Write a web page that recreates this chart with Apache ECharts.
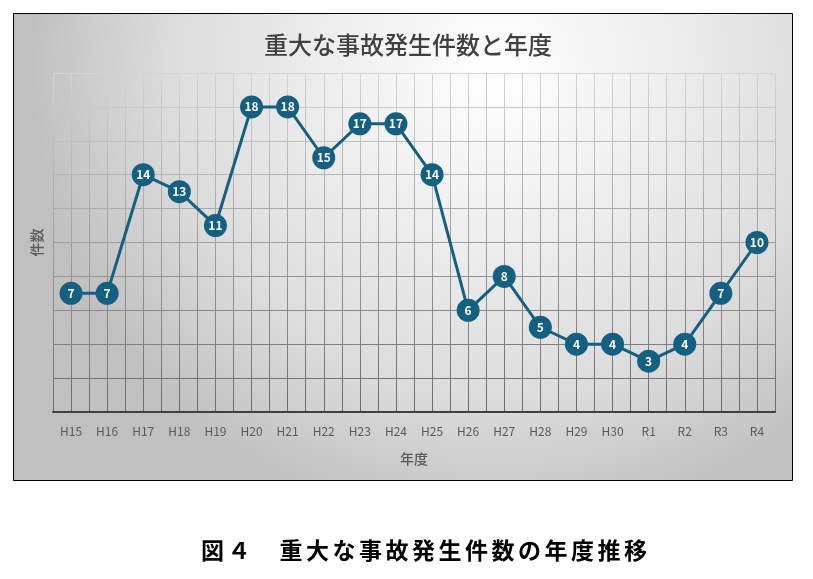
<!DOCTYPE html>
<html><head><meta charset="utf-8">
<script src="https://cdn.jsdelivr.net/npm/echarts@6/dist/echarts.min.js"></script>
<style>html,body{margin:0;padding:0;background:#fff}#c{width:813px;height:579px}</style>
</head><body><div id="c"></div>
<script>
const categories = ['H15','H16','H17','H18','H19','H20','H21','H22','H23','H24','H25','H26','H27','H28','H29','H30','R1','R2','R3','R4'];
const counts = [7,7,14,13,11,18,18,15,17,17,14,6,8,5,4,4,3,4,7,10];
const yTicks = {min:0, max:20, interval:2};
const titleText = '重大な事故発生件数と年度';
const captionText = '図４　重大な事故発生件数の年度推移';

const chart = echarts.init(document.getElementById('c'));
const FONT = '"Noto Sans CJK JP","Noto Sans",sans-serif';
const gridGrad = new echarts.graphic.LinearGradient(0,73,0,412,[{offset:0,color:'#d4d4d4'},{offset:1,color:'#6a6a6a'}],true);

const capEls = [];
const capChars = Array.from(captionText);
let cx = 201;
capChars.forEach((ch,i)=>{
  capEls.push({type:'text', left:cx, top:539, z:10, style:{text:ch, font:'bold 23px '+FONT, fill:'#000'}});
  cx += (ch==='　') ? 23 : (ch==='４' ? 29 : 26.5);
});

chart.setOption({
  animation:false,
  textStyle:{fontFamily:FONT},
  title:{text:titleText, left:403, top:28, textAlign:'center', textStyle:{fontSize:24, fontWeight:500, color:'#404040', fontFamily:FONT}},
  graphic:[
    {type:'rect', z:-100, shape:{x:13.5,y:13.5,width:779,height:467},
     style:{fill:new echarts.graphic.RadialGradient(0.62,0.12,1.0,[{offset:0,color:'#ffffff'},{offset:0.3,color:'#f1f1f1'},{offset:0.7,color:'#dcdcdc'},{offset:1,color:'#c0c0c0'}]), stroke:'#000', lineWidth:1}},
    ...capEls
  ],
  grid:{left:53, right:38, top:73, bottom:167},
  xAxis:[{
    type:'category', data:categories, boundaryGap:true,
    name:'年度', nameLocation:'middle', nameGap:40,
    nameTextStyle:{fontSize:14, color:'#595959', fontWeight:500},
    axisLine:{show:true, lineStyle:{color:'#404040', width:2}},
    axisTick:{show:false},
    axisLabel:{color:'#595959', fontSize:12, margin:13},
    splitLine:{show:false}
  },{
    type:'value', min:0, max:40, interval:1, position:'bottom',
    axisLine:{show:false}, axisTick:{show:false}, axisLabel:{show:false},
    splitLine:{show:true, lineStyle:{color:gridGrad, width:1}}
  }],
  yAxis:{
    type:'value', min:yTicks.min, max:yTicks.max, interval:yTicks.interval,
    name:'件数', nameLocation:'middle', nameGap:9, nameRotate:90,
    nameTextStyle:{fontSize:14, color:'#595959', fontWeight:500},
    axisLine:{show:false}, axisTick:{show:false}, axisLabel:{show:false},
    splitLine:{show:true, lineStyle:{color:gridGrad, width:1}}
  },
  series:[{
    type:'line', data:counts, xAxisIndex:0,
    symbol:'circle', symbolSize:23,
    lineStyle:{color:'#155f81', width:3},
    itemStyle:{color:'#155f81'},
    label:{show:true, position:'inside', color:'#fff', fontSize:12, fontWeight:'bold'},
    z:5
  }]
});
</script></body></html>
